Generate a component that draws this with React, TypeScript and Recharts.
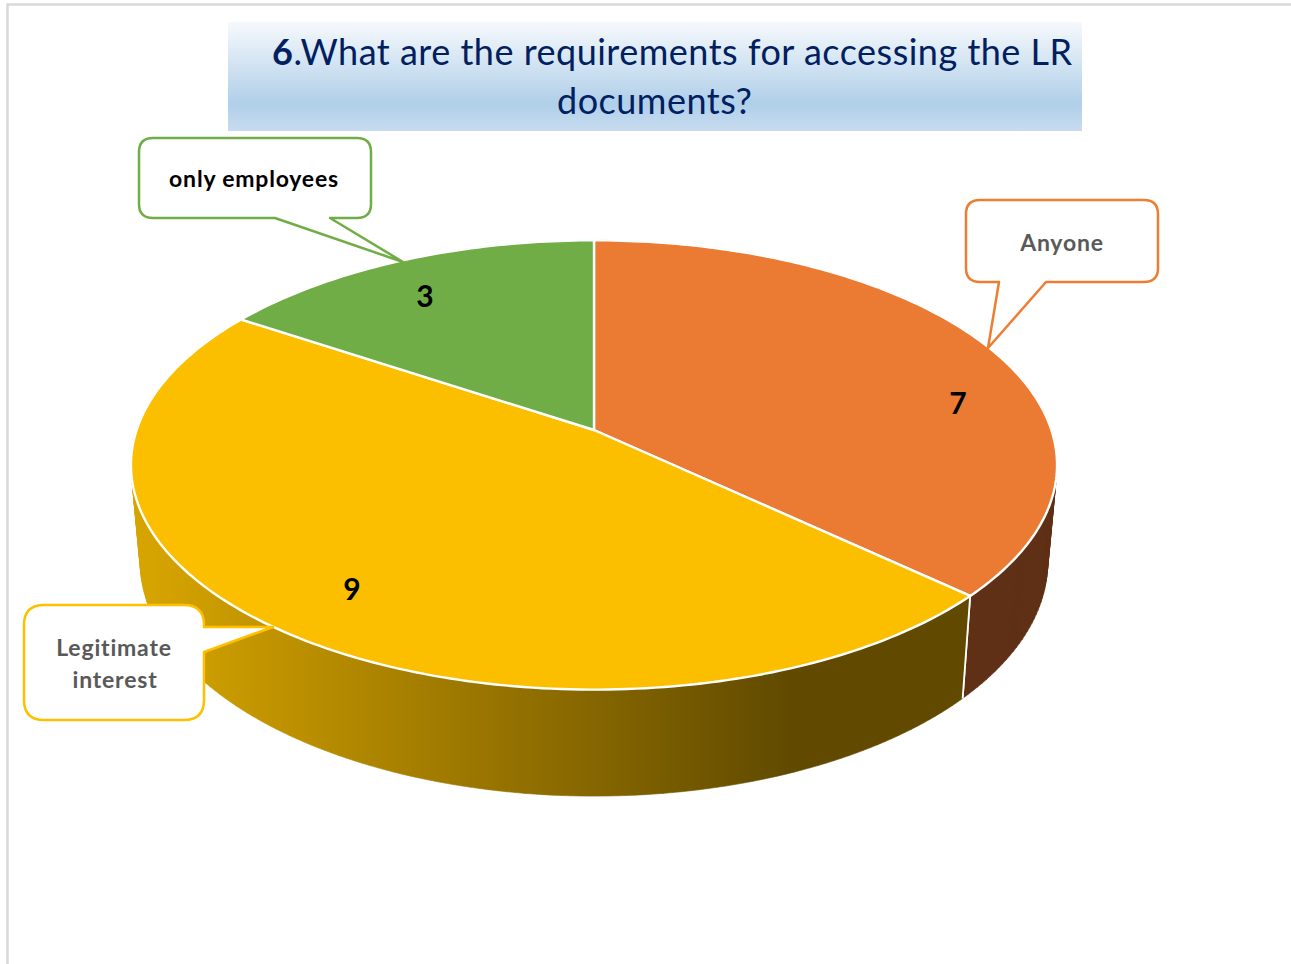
import React from "react";
import { PieChart, Pie, Cell } from "recharts";

const categories = ["Anyone", "Legitimate interest", "only employees"];
const counts = [7, 9, 3];
const topColors = ["#eb7b32", "#fbbf00", "#70ad47"];
const wallFills = ["#5f3015", "url(#yellowWall)", "#43682b"];
const calloutStroke = ["#ed7d31", "#ffc000", "#70ad47"];
const calloutText = ["#595959", "#595959", "#000000"];
const titleNumber = "6";
const titleLine1 = ".What are the requirements for accessing the LR";
const titleLine2 = "documents?";

const data = categories.map((name, i) => ({ name, value: counts[i] }));

// layout only
const W = 1291, H = 964;
const CX = 594, CY = 430, DEPTH = 106.5, DEPTH_SLOPE = 0.043, TAPER = 0.98;
const PK = 457.4, PA = 219.2, PC = -0.1556;
const FONT = "Lato, Carlito, Calibri, sans-serif";
const valuePos = [[958, 403], [352, 589], [425, 296]];
const calloutBox = [
  { x: 966, y: 200, w: 192, h: 82, r: 14, tail: [[999, 282], [988, 348], [1046, 282]], side: "bottom" },
  { x: 24, y: 605, w: 180, h: 115, r: 20, tail: [[204, 627], [273, 627], [204, 652]], side: "right" },
  { x: 139, y: 138, w: 232, h: 80, r: 14, tail: [[275, 218], [403, 262], [330, 218]], side: "bottom" },
];
const calloutLines = [
  [{ t: "Anyone", x: 1062, y: 251 }],
  [{ t: "Legitimate", x: 114, y: 656 }, { t: "interest", x: 115, y: 688 }],
  [{ t: "only employees", x: 254, y: 187 }],
];

const rim = (cx: number, cy: number, deg: number) => {
  const a = (deg * Math.PI) / 180;
  const u = Math.cos(a), v = -Math.sin(a);
  const d = 1 + PC * v;
  return [cx + (PK * u) / d, cy + (PA * v) / d];
};
const arcPoints = (cx: number, cy: number, start: number, end: number) => {
  const n = Math.max(2, Math.ceil(Math.abs(end - start)));
  const out: number[][] = [];
  for (let i = 0; i <= n; i++) out.push(rim(cx, cy, start + ((end - start) * i) / n));
  return out;
};
const fmt = (p: number[]) => `${p[0].toFixed(2)} ${p[1].toFixed(2)}`;
const drop = (cx: number, p: number[]) => [cx + (p[0] - cx) * TAPER, p[1] + DEPTH - (689 - p[1]) * DEPTH_SLOPE];

const TopSlice = (p: any) => {
  const pts = arcPoints(p.cx, p.cy, p.startAngle, p.endAngle);
  const d = `M${p.cx} ${p.cy} L` + pts.map(fmt).join(" L") + " Z";
  return <path d={d} fill={p.fill} stroke="#ffffff" strokeWidth={2.4} strokeLinejoin="round" />;
};

const WallSlice = (p: any) => {
  const pts = arcPoints(p.cx, p.cy, p.startAngle, p.endAngle);
  const quads: string[] = [];
  for (let i = 0; i + 1 < pts.length; i++) {
    const a = pts[i], b = pts[i + 1], c = drop(p.cx, b), e = drop(p.cx, a);
    const q = [a, b, c, e];
    let area = 0;
    q.forEach((s, k) => {
      const t = q[(k + 1) % 4];
      area += s[0] * t[1] - t[0] * s[1];
    });
    if (area < 0) q.reverse();
    quads.push("M" + q.map(fmt).join(" L") + " Z");
  }
  const first = pts[0], last = pts[pts.length - 1];
  return (
    <g>
      <path d={quads.join(" ")} fill={wallFills[p.index]} stroke={wallFills[p.index]} strokeWidth={0.6} />
      <path d={`M${fmt(first)} L${fmt(drop(p.cx, first))} M${fmt(last)} L${fmt(drop(p.cx, last))}`} stroke="#ffffff" strokeWidth={1.8} fill="none" />
    </g>
  );
};

const calloutPath = (b: any) => {
  const { x, y, w, h, r, tail, side } = b;
  const t = tail.map(fmt).join(" L");
  if (side === "bottom") {
    return `M${x + r} ${y} H${x + w - r} Q${x + w} ${y} ${x + w} ${y + r} V${y + h - r} Q${x + w} ${y + h} ${x + w - r} ${y + h} L${[...tail].reverse().map(fmt).join(" L")} H${x + r} Q${x} ${y + h} ${x} ${y + h - r} V${y + r} Q${x} ${y} ${x + r} ${y} Z`;
  }
  return `M${x + r} ${y} H${x + w - r} Q${x + w} ${y} ${x + w} ${y + r} L${t} V${y + h - r} Q${x + w} ${y + h} ${x + w - r} ${y + h} H${x + r} Q${x} ${y + h} ${x} ${y + h - r} V${y + r} Q${x} ${y} ${x + r} ${y} Z`;
};

const SliceLabel = (p: any) => {
  const i = p.index;
  return (
    <g>
      <path d={calloutPath(calloutBox[i])} fill="#ffffff" stroke={calloutStroke[i]} strokeWidth={2.5} strokeLinejoin="round" />
      {calloutLines[i].map((l) => (
        <text key={l.t} x={l.x} y={l.y} textAnchor="middle" fontFamily={FONT} fontWeight={700} fontSize={23} letterSpacing={0.8} fill={calloutText[i]}>
          {l.t}
        </text>
      ))}
      <text x={valuePos[i][0]} y={valuePos[i][1] + 11} textAnchor="middle" fontFamily={FONT} fontWeight={700} fontSize={30} fill="#000000">
        {p.value}
      </text>
    </g>
  );
};

export default function App() {
  return (
    <div style={{ position: "absolute", left: 0, top: 0, width: W, height: H, background: "#ffffff" }}>
      <PieChart width={W} height={H} margin={{ top: 0, right: 0, bottom: 0, left: 0 }}>
        <defs>
          <linearGradient id="titleBg" x1="0" y1="0" x2="0" y2="1">
            <stop offset="0" stopColor="#f6f9fc" />
            <stop offset="0.75" stopColor="#b0cfe9" />
            <stop offset="1" stopColor="#c8dcf0" />
          </linearGradient>
          <linearGradient id="yellowWall" gradientUnits="userSpaceOnUse" x1="150" y1="0" x2="790" y2="0">
            <stop offset="0" stopColor="#d6a400" />
            <stop offset="1" stopColor="#614a00" />
          </linearGradient>
        </defs>
        <path d={`M7.5 ${H} V4.5 H${W}`} fill="none" stroke="#d9d9d9" strokeWidth={2.5} />
        <rect x={228} y={22} width={854} height={109} fill="url(#titleBg)" />
        <text x={272} y={65} fontFamily={FONT} fontSize={36} letterSpacing={0.5} fill="#002060">
          <tspan fontWeight={700}>{titleNumber}</tspan>
          {titleLine1}
        </text>
        <text x={557} y={114} fontFamily={FONT} fontSize={36} letterSpacing={0.5} fill="#002060">
          {titleLine2}
        </text>
        <Pie data={data} dataKey="value" nameKey="name" cx={CX} cy={CY} outerRadius={200} startAngle={90} endAngle={-270}
          isAnimationActive={false} shape={WallSlice} stroke="none" legendType="none" />
        <Pie data={data} dataKey="value" nameKey="name" cx={CX} cy={CY} outerRadius={200} startAngle={90} endAngle={-270}
          isAnimationActive={false} shape={TopSlice} label={SliceLabel} labelLine={false} legendType="none">
          {data.map((d, i) => (
            <Cell key={d.name} fill={topColors[i]} />
          ))}
        </Pie>
      </PieChart>
    </div>
  );
}
